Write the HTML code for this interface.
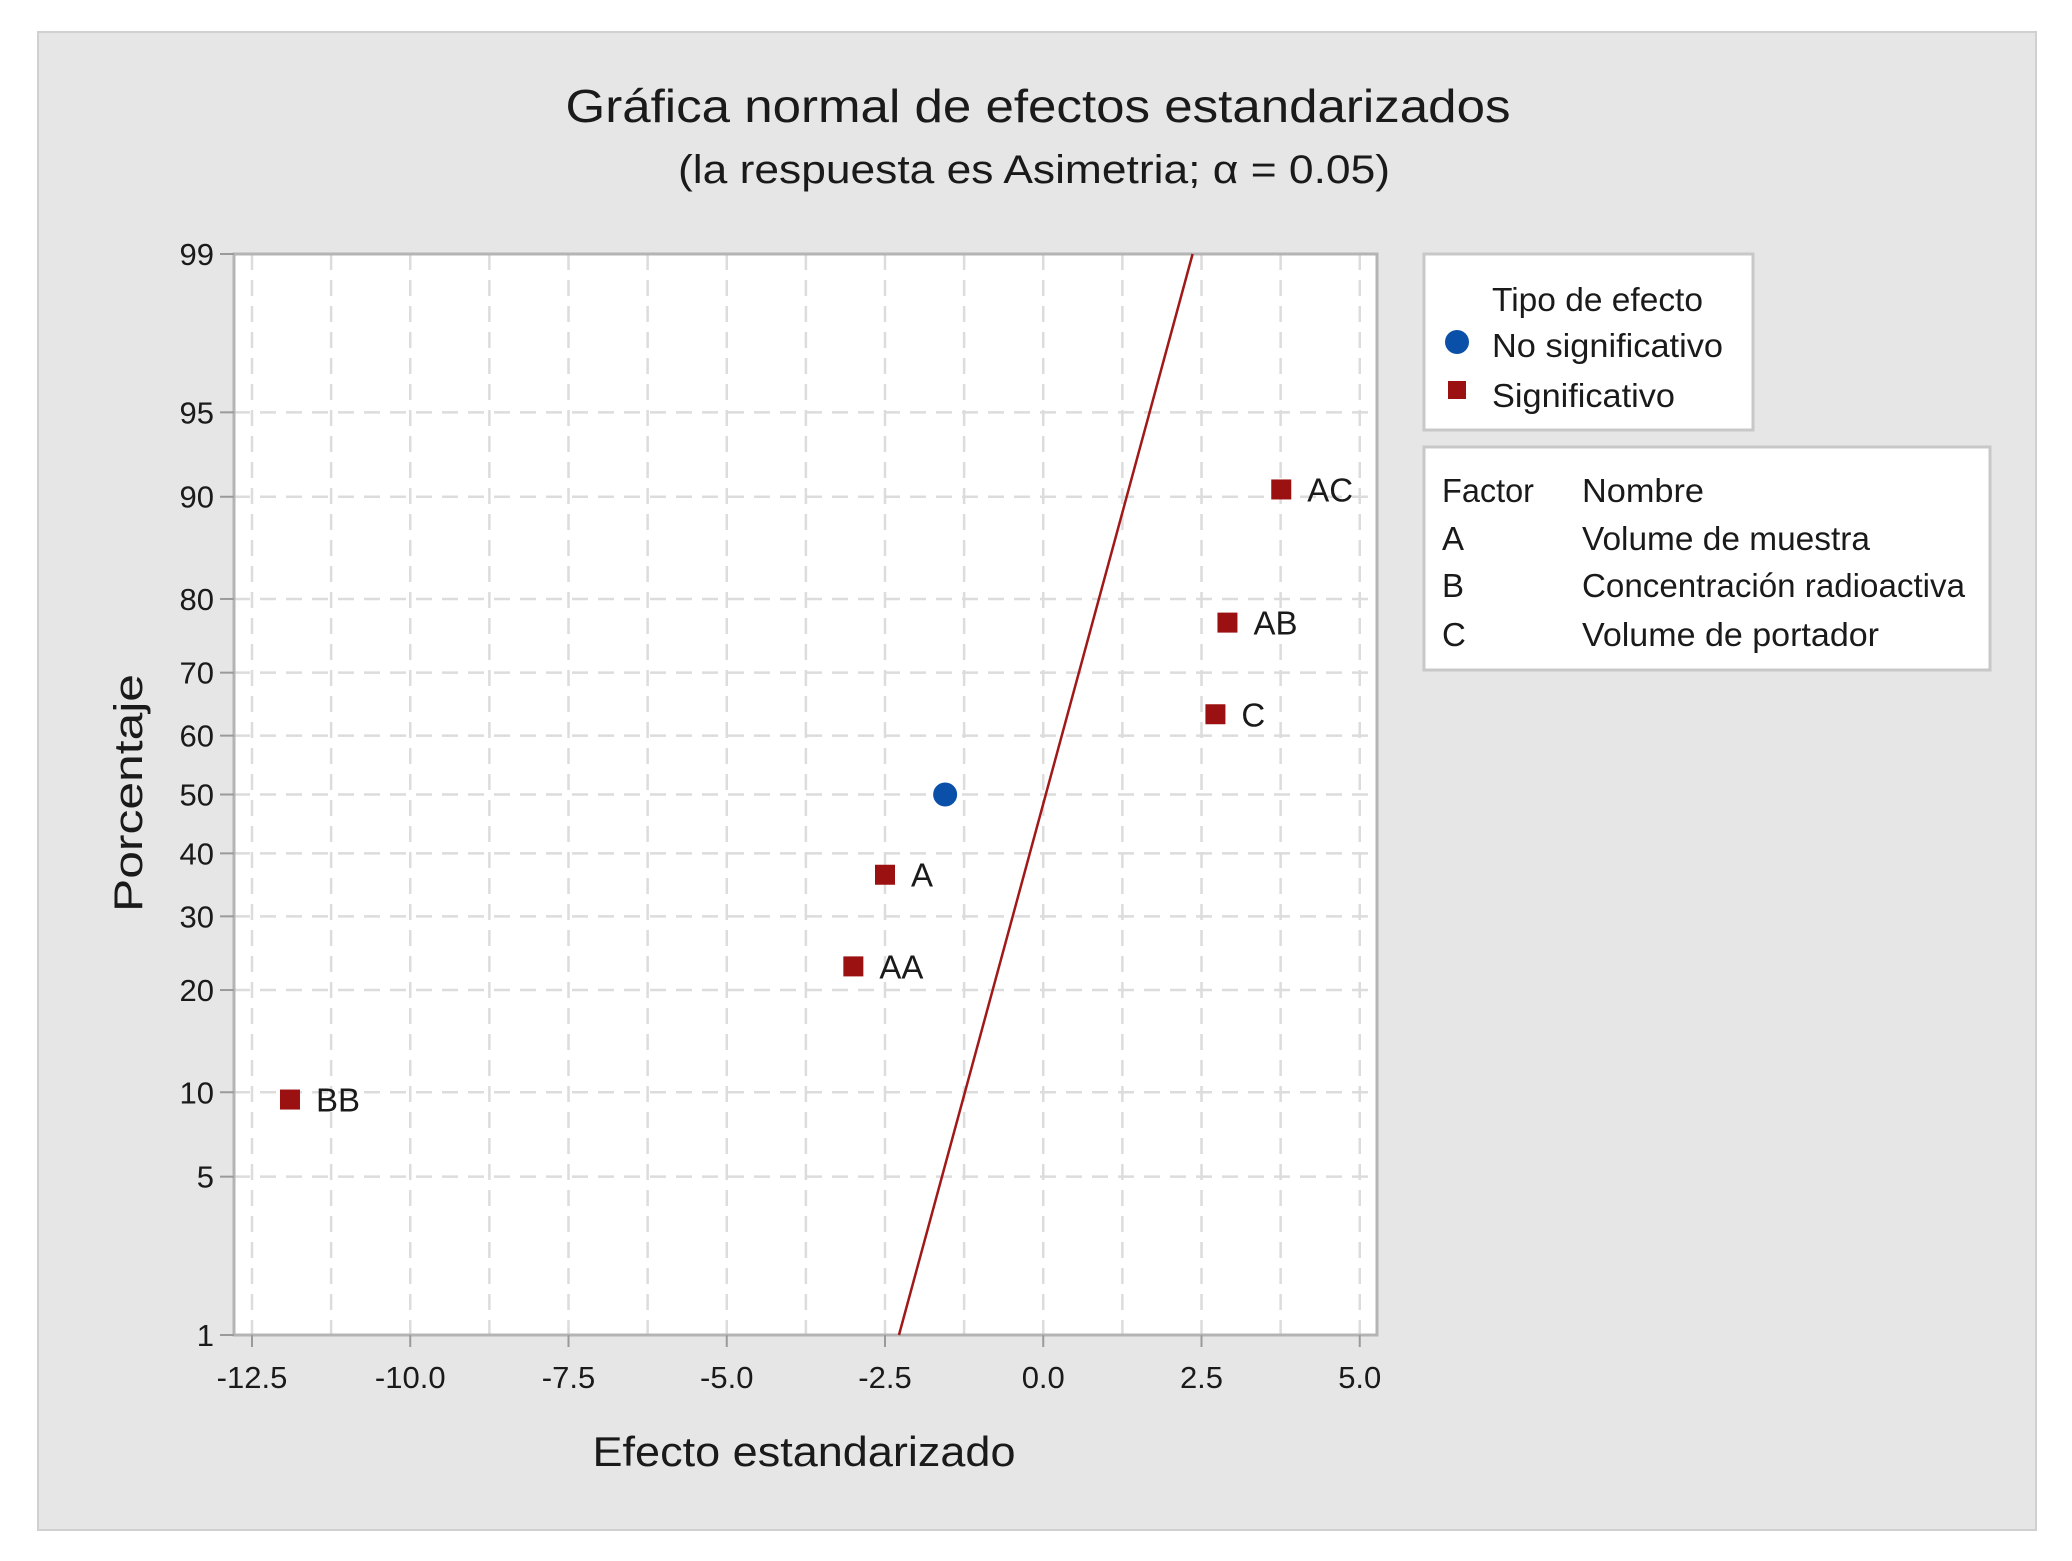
<!DOCTYPE html>
<html><head><meta charset="utf-8"><style>
html,body{margin:0;padding:0;background:#fff;}
svg{display:block;}
text{font-family:"Liberation Sans",sans-serif;fill:#1a1a1a;}
</style></head><body>
<svg width="2072" height="1561" viewBox="0 0 2072 1561">
<rect x="38" y="32" width="1998" height="1498" fill="#e6e6e6" stroke="#d0d0d0" stroke-width="2"/>
<text x="1038" y="122" font-size="46" text-anchor="middle" textLength="945" lengthAdjust="spacingAndGlyphs">Gráfica normal de efectos estandarizados</text>
<text x="1034" y="183" font-size="40" text-anchor="middle" textLength="712" lengthAdjust="spacingAndGlyphs">(la respuesta es Asimetria; α = 0.05)</text>
<rect x="234" y="254" width="1143" height="1081" fill="#fff"/>
<g id="grid"></g>
<g id="axes"></g>
<g id="marks"></g>
<text x="804" y="1466" font-size="42" text-anchor="middle" textLength="423" lengthAdjust="spacingAndGlyphs">Efecto estandarizado</text>
<text transform="translate(142,793) rotate(-90)" font-size="40" text-anchor="middle" textLength="238" lengthAdjust="spacingAndGlyphs">Porcentaje</text>
<g>
<rect x="1424" y="254" width="329" height="176" fill="#fff" stroke="#c8c8c8" stroke-width="3"/>
<text x="1492" y="311" font-size="33" textLength="211" lengthAdjust="spacingAndGlyphs">Tipo de efecto</text>
<circle cx="1457" cy="342" r="12" fill="#0a50a8"/>
<text x="1492" y="357" font-size="33" textLength="231" lengthAdjust="spacingAndGlyphs">No significativo</text>
<rect x="1448" y="381" width="18" height="18" fill="#9b1010"/>
<text x="1492" y="407" font-size="33" textLength="183" lengthAdjust="spacingAndGlyphs">Significativo</text>
</g>
<g>
<rect x="1424" y="447" width="566" height="223" fill="#fff" stroke="#c8c8c8" stroke-width="3"/>
<text x="1442" y="502" font-size="33" textLength="92" lengthAdjust="spacingAndGlyphs">Factor</text>
<text x="1582" y="502" font-size="33" textLength="122" lengthAdjust="spacingAndGlyphs">Nombre</text>
<text x="1442" y="550" font-size="33">A</text>
<text x="1582" y="550" font-size="33" textLength="288" lengthAdjust="spacingAndGlyphs">Volume de muestra</text>
<text x="1442" y="597" font-size="33">B</text>
<text x="1582" y="597" font-size="33" textLength="383" lengthAdjust="spacingAndGlyphs">Concentración radioactiva</text>
<text x="1442" y="646" font-size="33">C</text>
<text x="1582" y="646" font-size="33" textLength="297" lengthAdjust="spacingAndGlyphs">Volume de portador</text>
</g>
</svg>
<script>
const xTicks = [-12.5, -10.0, -7.5, -5.0, -2.5, 0.0, 2.5, 5.0];
const yTicks = [1, 5, 10, 20, 30, 40, 50, 60, 70, 80, 90, 95, 99];
const effectNames = ["BB", "AA", "A", "", "C", "AB", "AC"];
const effectValues = [-11.9, -3.0, -2.5, -1.55, 2.72, 2.91, 3.76];
const effectPercents = [9.46, 22.97, 36.49, 50, 63.51, 77.03, 90.54];
const effectSignificant = [true, true, true, false, true, true, true];
const lineMean = 0.04;
const lineSd = 0.997;

const NS = "http://www.w3.org/2000/svg";
const L = 234, R = 1377, T = 254, B = 1335;
function xs(v){ return 252 + (v + 12.5) * 63.3; }
function zInv(p){ // inverse normal CDF (Acklam)
  const a=[-39.69683028665376,220.9460984245205,-275.9285104469687,138.3577518672690,-30.66479806614716,2.506628277459239];
  const b=[-54.47609879822406,161.5858368580409,-155.6989798598866,66.80131188771972,-13.28068155288572];
  const c=[-0.007784894002430293,-0.3223964580411365,-2.400758277161838,-2.549732539343734,4.374664141464968,2.938163982698783];
  const d=[0.007784695709041462,0.3224671290700398,2.445134137142996,3.754408661907416];
  const pl=0.02425;
  if(p<pl){const q=Math.sqrt(-2*Math.log(p));return (((((c[0]*q+c[1])*q+c[2])*q+c[3])*q+c[4])*q+c[5])/((((d[0]*q+d[1])*q+d[2])*q+d[3])*q+1);}
  if(p>1-pl){const q=Math.sqrt(-2*Math.log(1-p));return -(((((c[0]*q+c[1])*q+c[2])*q+c[3])*q+c[4])*q+c[5])/((((d[0]*q+d[1])*q+d[2])*q+d[3])*q+1);}
  const q=p-0.5,r=q*q;return (((((a[0]*r+a[1])*r+a[2])*r+a[3])*r+a[4])*r+a[5])*q/(((((b[0]*r+b[1])*r+b[2])*r+b[3])*r+b[4])*r+1);
}
const zMax = zInv(0.99);
function ys(pct){ return (T+B)/2 - zInv(pct/100) * (B-T)/(2*zMax); }
function mk(tag, attrs, parent){
  const e=document.createElementNS(NS,tag);
  for(const k in attrs) e.setAttribute(k, attrs[k]);
  parent.appendChild(e); return e;
}
const grid=document.getElementById('grid'), axes=document.getElementById('axes'), marks=document.getElementById('marks');
// vertical grid every 1.25
for(let v=-12.5; v<=5.0001; v+=1.25){
  const g=mk('line',{x1:xs(v),x2:xs(v),y1:T,y2:B,stroke:'#dcdcdc','stroke-width':2.5,'stroke-dasharray':'16,10'},grid);
  
  
}
yTicks.forEach(p=>{
  if(p===1||p===99) return;
  const g=mk('line',{x1:L,x2:R,y1:ys(p),y2:ys(p),stroke:'#dcdcdc','stroke-width':2.5,'stroke-dasharray':'16,10'},grid);
  
  
});
mk('rect',{x:L,y:T,width:R-L,height:B-T,fill:'none',stroke:'#b4b4b4','stroke-width':3},axes);
xTicks.forEach(v=>{
  const t=mk('line',{x1:xs(v),x2:xs(v),y1:B,y2:B+12,stroke:'#9a9a9a','stroke-width':2},axes);
  
  
  const s=mk('text',{x:xs(v),y:B+53,'font-size':31,'text-anchor':'middle'},axes);
  s.textContent=v.toFixed(1);
  
  
});
yTicks.forEach(p=>{
  const t=mk('line',{x1:L-14,x2:L,y1:ys(p),y2:ys(p),stroke:'#9a9a9a','stroke-width':2},axes);
  
  
  const s=mk('text',{x:L-20,y:ys(p)+11,'font-size':31,'text-anchor':'end'},axes);
  s.textContent=String(p);
  
  
});
// reference line
const x1=lineMean+zInv(0.01)*lineSd, x2=lineMean+zInv(0.99)*lineSd;
const ln=mk('line',{x1:xs(x1),y1:ys(1),x2:xs(x2),y2:ys(99),stroke:'#a01818','stroke-width':2.5},marks);


effectValues.forEach((v,i)=>{
  const cx=xs(v), cy=ys(effectPercents[i]);
  let m;
  if(effectSignificant[i]){
    m=mk('rect',{x:cx-10,y:cy-10,width:20,height:20,fill:'#9b1010'},marks);
    
  } else {
    m=mk('circle',{cx:cx,cy:cy,r:12,fill:'#0a50a8'},marks);
    
  }
  
  if(effectNames[i]){
    const s=mk('text',{x:cx+26,y:cy+12,'font-size':33},marks);
    s.textContent=effectNames[i];
    
    
  }
});
</script>
</body></html>
